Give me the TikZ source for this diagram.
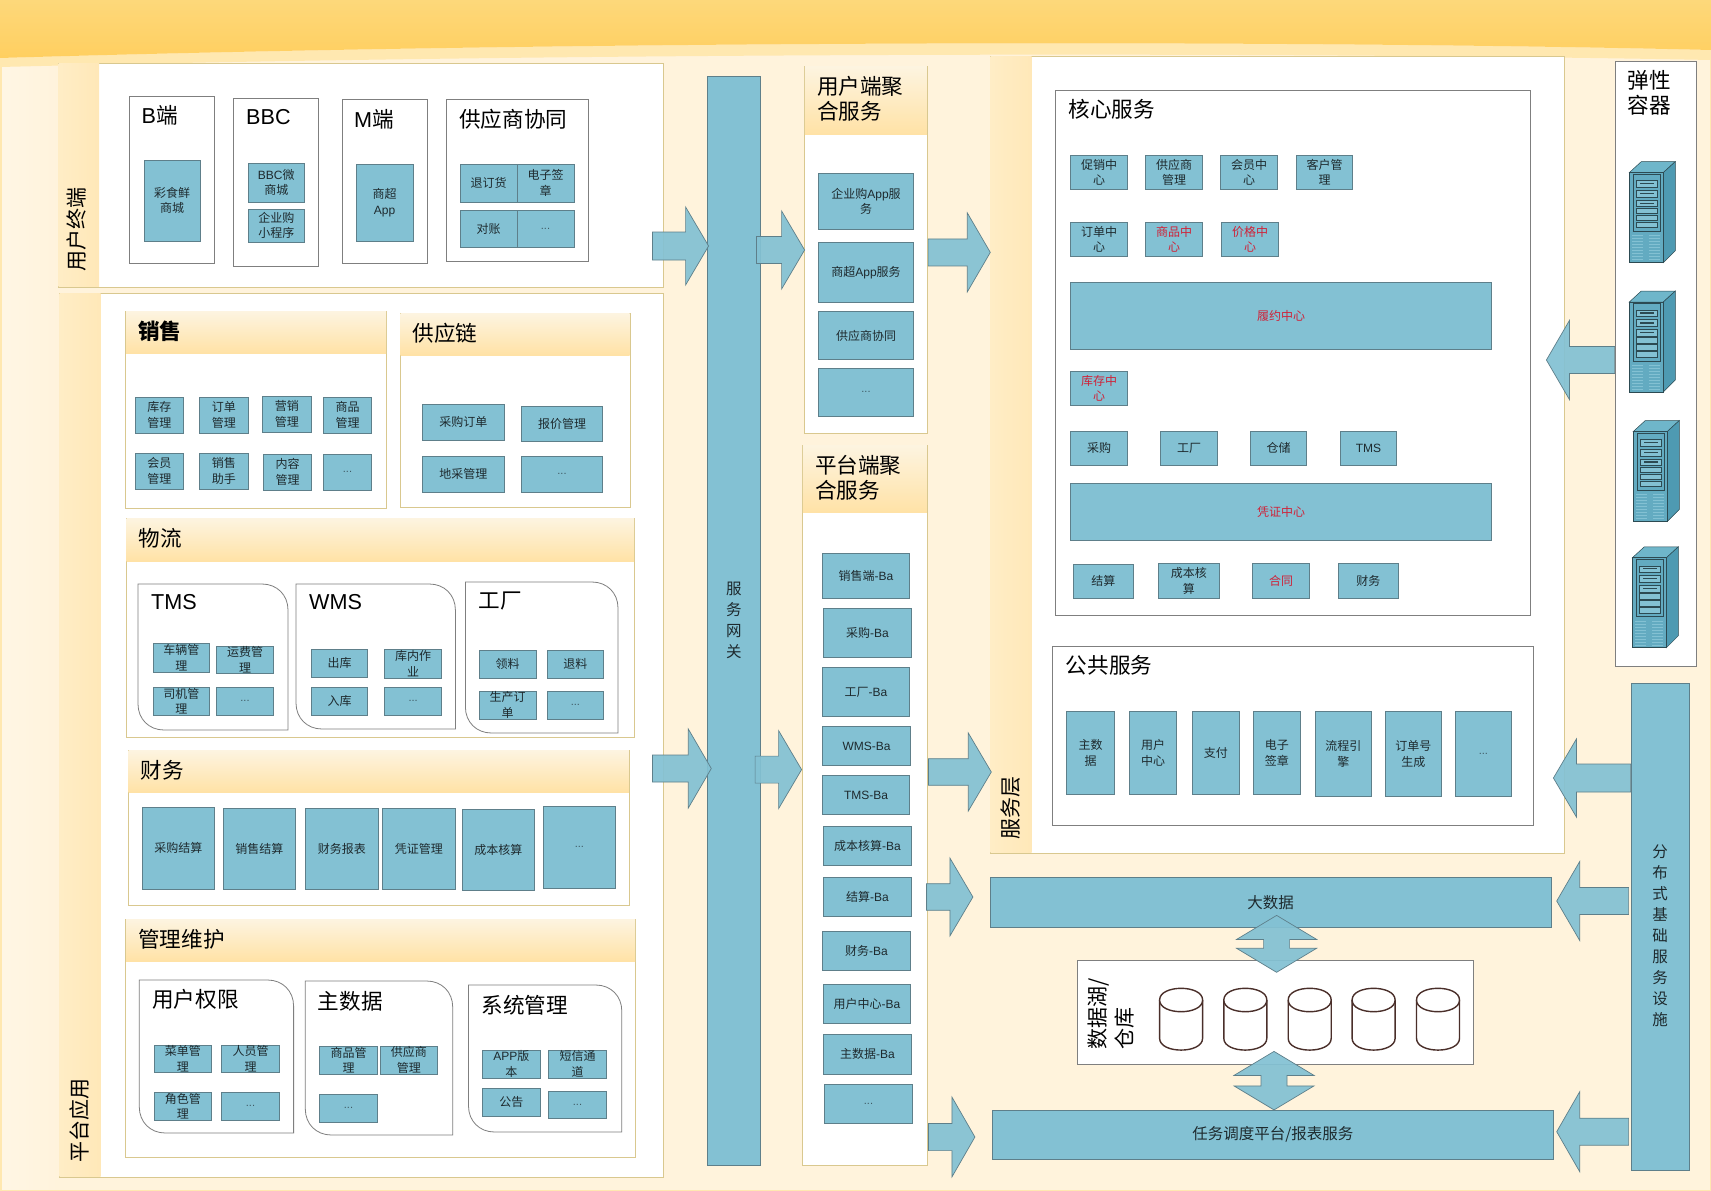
\documentclass[tikz,border=0pt]{standalone}
\usepackage{fontspec}
\setmainfont{Noto Sans CJK SC}
\newfontfamily\lat{Liberation Sans}
\usetikzlibrary{calc}
\definecolor{cream}{HTML}{FFF3DC}
\definecolor{creamlight}{HTML}{FFF6E4}
\definecolor{bandtop}{HTML}{FDD87A}
\definecolor{bandlow}{HTML}{FFCF60}
\definecolor{bandpale}{HTML}{FFE8B0}
\definecolor{headtop}{HTML}{FDF4E0}
\definecolor{headlow}{HTML}{FFE2A6}
\definecolor{stripleft}{HTML}{FFEDC6}
\definecolor{stripright}{HTML}{FFE8B8}
\definecolor{panelline}{HTML}{D9C88F}
\definecolor{boxline}{HTML}{7F7F7F}
\definecolor{svcblue}{HTML}{83C1D3}
\definecolor{svcline}{HTML}{5E7F8A}
\definecolor{textdark}{HTML}{1E2A2E}
\definecolor{alertred}{HTML}{CF2238}
\definecolor{dotgray}{HTML}{3F5A64}
\definecolor{cylbrown}{HTML}{4A2F2A}
\definecolor{srvfront}{HTML}{63ABC1}
\definecolor{srvside}{HTML}{4E9AB2}
\definecolor{srvtop}{HTML}{6FB6CA}
\definecolor{srvdark}{HTML}{2C4A52}
\newcommand{\etc}{\textcolor{dotgray}{\lat\fontsize{11}{12}\selectfont ...}}

\tikzset{
    server/.pic={
        \fill[srvtop, draw=srvdark, line width=0.5pt] (0,0) -- (12,-11) -- (46,-11) -- (34,0) -- cycle;
        \fill[srvside, draw=srvdark, line width=0.5pt] (34,0) -- (46,-11) -- (46,78) -- (34,90) -- cycle;
        \fill[srvfront, draw=srvdark, line width=0.9pt] (0,0) rectangle (34,90);
        \draw[srvdark, line width=0.7pt] (4,1.5) rectangle (31,59);
        \foreach \sa/\sb in {8/14.5, 17.5/24.5, 27.5/34, 35.5/41, 42.5/48, 49.5/55} {
            \draw[srvdark, fill=svcblue, line width=0.6pt] (7,\sa) rectangle (27.5,\sb);
        }
        \foreach \sa in {11, 21, 30.5} {
            \draw[srvdark, line width=1.1pt] (11,\sa) -- (25,\sa);
        }
        \foreach \sa in {63,66,...,88} {
            \draw[svcblue, line width=0.4pt] (3,\sa) -- (14,\sa);
            \draw[svcblue, line width=0.4pt] (20,\sa) -- (31,\sa);
        }
    },
}

\begin{document}
\begin{tikzpicture}[
    x=1pt, y=-1pt,
    panel/.style={draw=panelline, fill=white, line width=0.8pt, inner sep=0pt},
    subbox/.style={draw=boxline, fill=white, line width=0.8pt, inner sep=0pt},
    svc/.style={draw=svcline, fill=svcblue, line width=0.8pt, inner sep=0pt, text=textdark, align=center, font=\fontsize{12}{15.5}\selectfont},
    svcred/.style={svc, text=alertred},
    svcbig/.style={svc, font=\fontsize{15.5}{21}\selectfont},
    titletxt/.style={anchor=west, align=left, inner sep=0pt, yshift=1pt, text=black, font=\fontsize{21.6}{25}\selectfont},
    sidetxt/.style={rotate=90, inner sep=0pt, align=left, text=black, font=\fontsize{21}{27}\selectfont},
    blockarrow/.style={draw=svcline, fill=svcblue, line width=0.7pt, fill opacity=0.93},
    dbcyl/.style={draw=cylbrown, line width=1.4pt, fill=white},
]
\useasboundingbox (0,0) rectangle (1711,1191);

% Background
\fill[cream] (0,0) rectangle (1711,1191);
\shade[left color=creamlight, right color=cream] (0,0) rectangle (58,1191);
\fill[bandpale] (0,58) .. controls (600,40) and (1300,40) .. (1711,50) -- (1711,60) .. controls (1300,52) and (600,52) .. (0,67) -- cycle;
\shade[top color=bandtop, bottom color=bandlow] (0,0) -- (1711,0) -- (1711,50) .. controls (1300,40) and (600,40) .. (0,58) -- cycle;
\draw[bandpale, line width=3pt] (0,58) -- (0,1191) -- (1711,1191) -- (1711,50);

% Layers with a side strip
\foreach \nm/\xa/\ya/\xb/\yb/\xs in {user/58/63/663/287/99, platform/59/293/663/1177/100.5, svclayer/990/56/1564.7/853.3/1031.7} {
    \node[panel, minimum width=(\xb-\xa)*1pt, minimum height=(\yb-\ya)*1pt] (\nm) at ({(\xa+\xb)/2},{(\ya+\yb)/2}) {};
    \shade[left color=stripleft, right color=stripright] (\xa+0.5,\ya+0.5) rectangle (\xs,\yb-0.5);
}
\node[sidetxt] (usertxt) at (77,229) {用户终端};
\node[sidetxt] (platformtxt) at (80,1120) {平台应用};
\node[sidetxt] (svclayertxt) at (1011,808) {服务层};

% Panels with a header band
\foreach \nm/\xa/\ya/\xb/\yb/\yh/\txt in {
    sales/125.5/311/386.6/508/353/{\bfseries 销售},
    supply/400/313/630/507/355/供应链,
    logistics/126/518/634.5/737/561/物流,
    finance/128/750/629.4/905/792/财务,
    admin/125.5/919/635.6/1157/961/管理维护,
    useragg/804.3/66/927.3/433/134/{用户端聚\\合服务},
    platagg/802.3/445/927.3/1165/512.7/{平台端聚\\合服务}} {
    \node[panel, minimum width=(\xb-\xa)*1pt, minimum height=(\yb-\ya)*1pt] (\nm) at ({(\xa+\xb)/2},{(\ya+\yb)/2}) {};
    \shade[top color=headtop, bottom color=headlow] (\xa+0.5,\ya+0.5) rectangle (\xb-0.5,\yh);
    \node[titletxt] (\nm-t) at (\xa+12.5,{(\ya+\yh)/2}) {\txt};
}

% Square boxes
\foreach \nm/\xa/\ya/\xb/\yb in {
    bend/129.5/96/214/263, bbc/233.5/98/318/266, mend/342/99/427/263, scm/446/99/588/261,
    core/1055.3/90.3/1530.7/615.3, common/1052.7/646.7/1533.4/825.3,
    lake/1077.5/960.3/1473.3/1064.3, elastic/1615.3/61.4/1696.7/666.3} {
    \node[subbox, minimum width=(\xb-\xa)*1pt, minimum height=(\yb-\ya)*1pt] (\nm) at ({(\xa+\xb)/2},{(\ya+\yb)/2}) {};
}

% Boxes with two round corners
\foreach \xa/\ya/\xb/\yb in {
    138/584/288/730, 296/584/455.4/729, 465.4/582/618/733,
    139.3/980/293.6/1133, 305.3/981/452.7/1135, 468.5/985/621.8/1132} {
    \draw[subbox] (\xa,\ya) -- (\xb-26,\ya) .. controls (\xb-11,\ya) and (\xb,\ya+11) .. (\xb,\ya+26) -- (\xb,\yb) -- (\xa+26,\yb) .. controls (\xa+11,\yb) and (\xa,\yb-11) .. (\xa,\yb-26) -- cycle;
}

% Box titles
\foreach \nm/\xa/\ya/\txt in {
    bendt/141.5/116/{{\lat B}端}, bbct/246/118/{\lat BBC}, mendt/354/120/{{\lat M}端}, scmt/459/120/供应商协同,
    tmst/151/603/{\lat TMS}, wmst/309/603/{\lat WMS}, factoryt/478.5/602/工厂,
    rightst/152/1000/用户权限, mdatat/317.7/1002/主数据, syst/481.3/1006/系统管理,
    coret/1068.3/110/核心服务, commont/1065.7/666.7/公共服务, elastict/1627.7/94/{弹性\\容器}} {
    \node[titletxt] (\nm) at (\xa,\ya) {\txt};
}

% Small service boxes
\foreach \nm/\xa/\ya/\xb/\yb/\txt in {
    s1/144/160/200/241/{彩食鲜\\商城},
    s2/248/163/304.5/202/{{\lat BBC}微\\商城},
    s3/248/209/304.5/242/{企业购\\小程序},
    s4/356/164/413/241/{商超\\{\lat App}},
    s5/460/164/517/202/退订货,
    s6/517/164/574/202/{电子签\\章},
    s7/460/210/517/247/对账,
    s8/517/210/574/247/\etc,
    sa1/135/397/183.5/433/{库存\\管理},
    sa2/199.5/397/248/433/{订单\\管理},
    sa3/262.5/396/311/432/{营销\\管理},
    sa4/323.6/397/371.4/433/{商品\\管理},
    sa5/135/453/183.5/489/{会员\\管理},
    sa6/199.5/453/248/489/{销售\\助手},
    sa7/263.4/454/311.6/490/{内容\\管理},
    sa8/323.6/454/371.4/490/\etc,
    su1/422/404/504.5/440/采购订单,
    su2/521.4/406/602.6/441/报价管理,
    su3/422/456/504.5/492/地采管理,
    su4/521.4/456/602.6/492/\etc,
    lo1/153.4/643/209.5/672/{车辆管\\理},
    lo2/216.4/646/273.6/673/{运费管\\理},
    lo3/153.4/687/209.5/715/{司机管\\理},
    lo4/216.4/687/273.6/715/\etc,
    lo5/311.5/649/367.6/677/出库,
    lo6/384.5/649/441.7/678/{库内作\\业},
    lo7/311.5/687/367.6/715/入库,
    lo8/384.5/687/441.7/715/\etc,
    lo9/479/650/536.4/678/领料,
    lo10/547.4/650/603.5/678/退料,
    lo11/479/691/536.4/719/{生产订\\单},
    lo12/547.4/691/603.5/719/\etc,
    fi1/142.4/807/214.4/889/采购结算,
    fi2/223.3/808/295.6/889/销售结算,
    fi3/305.3/808/378.3/889/财务报表,
    fi4/382.4/808/455.4/889/凭证管理,
    fi5/462.3/809/534.3/890/成本核算,
    fi6/543.3/806/615.6/888/\etc,
    ad1/154/1045/211.6/1072/{菜单管\\理},
    ad2/221.2/1045/279.8/1072/{人员管\\理},
    ad3/154/1092/211.6/1120/{角色管\\理},
    ad4/221.2/1092/279.8/1120/\etc,
    ad5/319.4/1046/377.6/1074/{商品管\\理},
    ad6/380.4/1046/437.5/1074/{供应商\\管理},
    ad7/319.4/1094/377.6/1122/\etc,
    ad8/482.3/1050/540.5/1078/{{\lat APP}版\\本},
    ad9/548.4/1050/606.6/1078/{短信通\\道},
    ad10/482.3/1088/540.5/1116/公告,
    ad11/548.4/1091/606.6/1118/\etc,
    ua1/818.3/173/913.7/229.6/{企业购{\lat App}服\\务},
    ua2/818.3/242.5/913.7/302.4/{商超{\lat App}服务},
    ua3/818.3/311.4/913.7/359.5/供应商协同,
    ua4/818.3/368/913.7/416.6/\etc,
    pa1/822.3/553/909.7/598/{销售端{\lat -Ba}},
    pa2/823.3/608.3/911.7/657.7/{采购{\lat -Ba}},
    pa3/822.3/667.5/909.7/716.5/{工厂{\lat -Ba}},
    pa4/822.3/726.3/910.7/765.5/{\lat WMS-Ba},
    pa5/822.3/775.3/909.7/814.5/{\lat TMS-Ba},
    pa6/823.3/826.6/911.7/865.8/{成本核算{\lat -Ba}},
    pa7/823.3/877.5/911.7/916.7/{结算{\lat -Ba}},
    pa8/822.3/931.4/910.7/970.6/{财务{\lat -Ba}},
    pa9/823.3/984.5/910.7/1023.7/{用户中心{\lat -Ba}},
    pa10/823.3/1034.3/911.7/1073.9/{主数据{\lat -Ba}},
    pa11/824.3/1084.4/912.7/1123.7/\etc,
    co1/1070.3/155.3/1127.7/189.3/{促销中\\心},
    co2/1145.3/155.3/1202.7/189.3/{供应商\\管理},
    co3/1220.3/155.3/1277.7/189.3/{会员中\\心},
    co4/1296.3/155.3/1352.7/189.3/{客户管\\理},
    co5/1070.3/222.3/1127.7/256.3/{订单中\\心},
    co6/1070.3/431.3/1127.7/465.3/采购,
    co7/1160.3/431.3/1217.7/465.3/工厂,
    co8/1250.3/431.3/1306.7/465.3/仓储,
    co9/1340.3/431.3/1396.7/465.3/{\lat TMS},
    co10/1073.4/564.3/1133.5/598.3/结算,
    co11/1158.3/563.3/1219.6/598.3/{成本核\\算},
    co12/1338.6/563.3/1398.3/598.3/财务,
    cm1/1066.5/711.7/1114.7/794.3/{主数\\据},
    cm2/1129.3/711.7/1176.7/794.3/{用户\\中心},
    cm3/1192.4/711.7/1239.5/794.3/支付,
    cm4/1253.2/711.7/1300.7/794.3/{电子\\签章},
    cm5/1315.2/711.7/1371.5/796.3/{流程引\\擎},
    cm6/1385.3/711.7/1441.5/796.3/{订单号\\生成},
    cm7/1455.3/711.7/1511.6/796.3/\etc} {
    \node[svc, minimum width=(\xb-\xa)*1pt, minimum height=(\yb-\ya)*1pt] (\nm) at ({(\xa+\xb)/2},{(\ya+\yb)/2}) {\txt};
}

% Red ones
\foreach \nm/\xa/\ya/\xb/\yb/\txt in {
    re1/1145.3/222.3/1202.7/256.3/{商品中\\心},
    re2/1221.3/222.3/1278.7/256.3/{价格中\\心},
    re3/1070.3/282.3/1491.7/349.3/履约中心,
    re4/1070.3/371.3/1127.7/405.3/{库存中\\心},
    re5/1070.3/483.3/1491.7/540.7/凭证中心,
    re6/1252.5/563.3/1309.5/598.3/合同} {
    \node[svcred, minimum width=(\xb-\xa)*1pt, minimum height=(\yb-\ya)*1pt] (\nm) at ({(\xa+\xb)/2},{(\ya+\yb)/2}) {\txt};
}

% Long bars
\foreach \nm/\xa/\ya/\xb/\yb/\txt in {
    gateway/707/76/760.5/1165/{服\\务\\网\\关},
    bigdata/990/877.3/1551.4/927.3/大数据,
    taskbar/992/1110.3/1553.6/1159.3/{任务调度平台/报表服务},
    infra/1631.6/683.3/1689.6/1170.3/{}} {
    \node[svcbig, minimum width=(\xb-\xa)*1pt, minimum height=(\yb-\ya)*1pt] (\nm) at ({(\xa+\xb)/2},{(\ya+\yb)/2}) {\txt};
}
\node[svcbig, draw=none, fill=none] (infratxt) at (1660,936) {分\\布\\式\\基\\础\\服\\务\\设\\施};

% Data lake
\node[sidetxt, anchor=west] (laketxt) at (1111,1050) {数据湖/\\仓库};
\foreach \cx in {1181.1, 1245.3, 1309.7, 1373.6, 1438} {
    \draw[dbcyl] (\cx-21.5,1000) -- (\cx-21.5,1038.3) .. controls (\cx-21.5,1054) and (\cx+21.5,1054) .. (\cx+21.5,1038.3) -- (\cx+21.5,1000);
    \draw[dbcyl] (\cx-21.5,1000) .. controls (\cx-21.5,984.4) and (\cx+21.5,984.4) .. (\cx+21.5,1000) .. controls (\cx+21.5,1015.6) and (\cx-21.5,1015.6) .. (\cx-21.5,1000) -- cycle;
}

% Servers
\pic (srv1) at (1629.3,172.6) {server};
\pic (srv2) at (1629.3,302) {server};
\pic (srv3) at (1633.3,431.5) {server};
\pic (srv4) at (1632.3,557.8) {server};

% Block arrows
\foreach \from/\to/\da/\db/\yc/\hs/\hh in {
    user.east/gateway.west/-11/2/246/14/39,
    gateway.east/useragg.west/-4.5/0.7/250/13.5/39,
    useragg.east/svclayer.west/0.4/0.7/252.4/13.5/39.5,
    platform.east/gateway.west/-11/4.7/768.5/13.5/39.5,
    gateway.east/platagg.west/-5.8/-0.3/769.6/13.5/39,
    platagg.east/svclayer.west/0.7/1.7/772/13.3/39,
    platagg.east/bigdata.west/-1.3/-16.7/897/13.3/39,
    platagg.east/taskbar.west/0.7/-16.7/1137/13.6/40,
    elastic.west/svclayer.east/-0.3/-18.7/360/13.5/39.5,
    infra.west/svclayer.east/-0.6/-11.7/778/14/39,
    infra.west/bigdata.east/-2.6/4.9/901/13.5/39.5,
    infra.west/taskbar.east/-2.6/2.7/1131.7/13.5/40} {
    \draw[blockarrow] let \p1=(\from), \p2=(\to), \n1={\x1+\da*1pt}, \n2={\x2+\db*1pt},
        \n3={\n2+(\n1<\n2 ? -23pt : 23pt)} in
        (\n1,\yc-\hs) -- (\n3,\yc-\hs) -- (\n3,\yc-\hh) -- (\n2,\yc) -- (\n3,\yc+\hh) -- (\n3,\yc+\hs) -- (\n1,\yc+\hs) -- cycle;
}

% Double arrows
\foreach \from/\to/\da/\db/\xc in {
    bigdata.south/lake.north/-12.3/12.4/1276.6,
    lake.south/taskbar.north/-13.3/0/1274} {
    \draw[blockarrow] let \p1=(\from), \p2=(\to), \n1={\y1-\da*1pt}, \n2={\y2-\db*1pt},
        \n3={\n1-24pt}, \n4={\n2+24pt} in
        (\xc,\n1) -- (\xc+40,\n3) -- (\xc+13,\n3) -- (\xc+13,\n4) -- (\xc+40,\n4) -- (\xc,\n2) -- (\xc-40,\n4) -- (\xc-13,\n4) -- (\xc-13,\n3) -- (\xc-40,\n3) -- cycle;
}

\end{tikzpicture}
\end{document}
